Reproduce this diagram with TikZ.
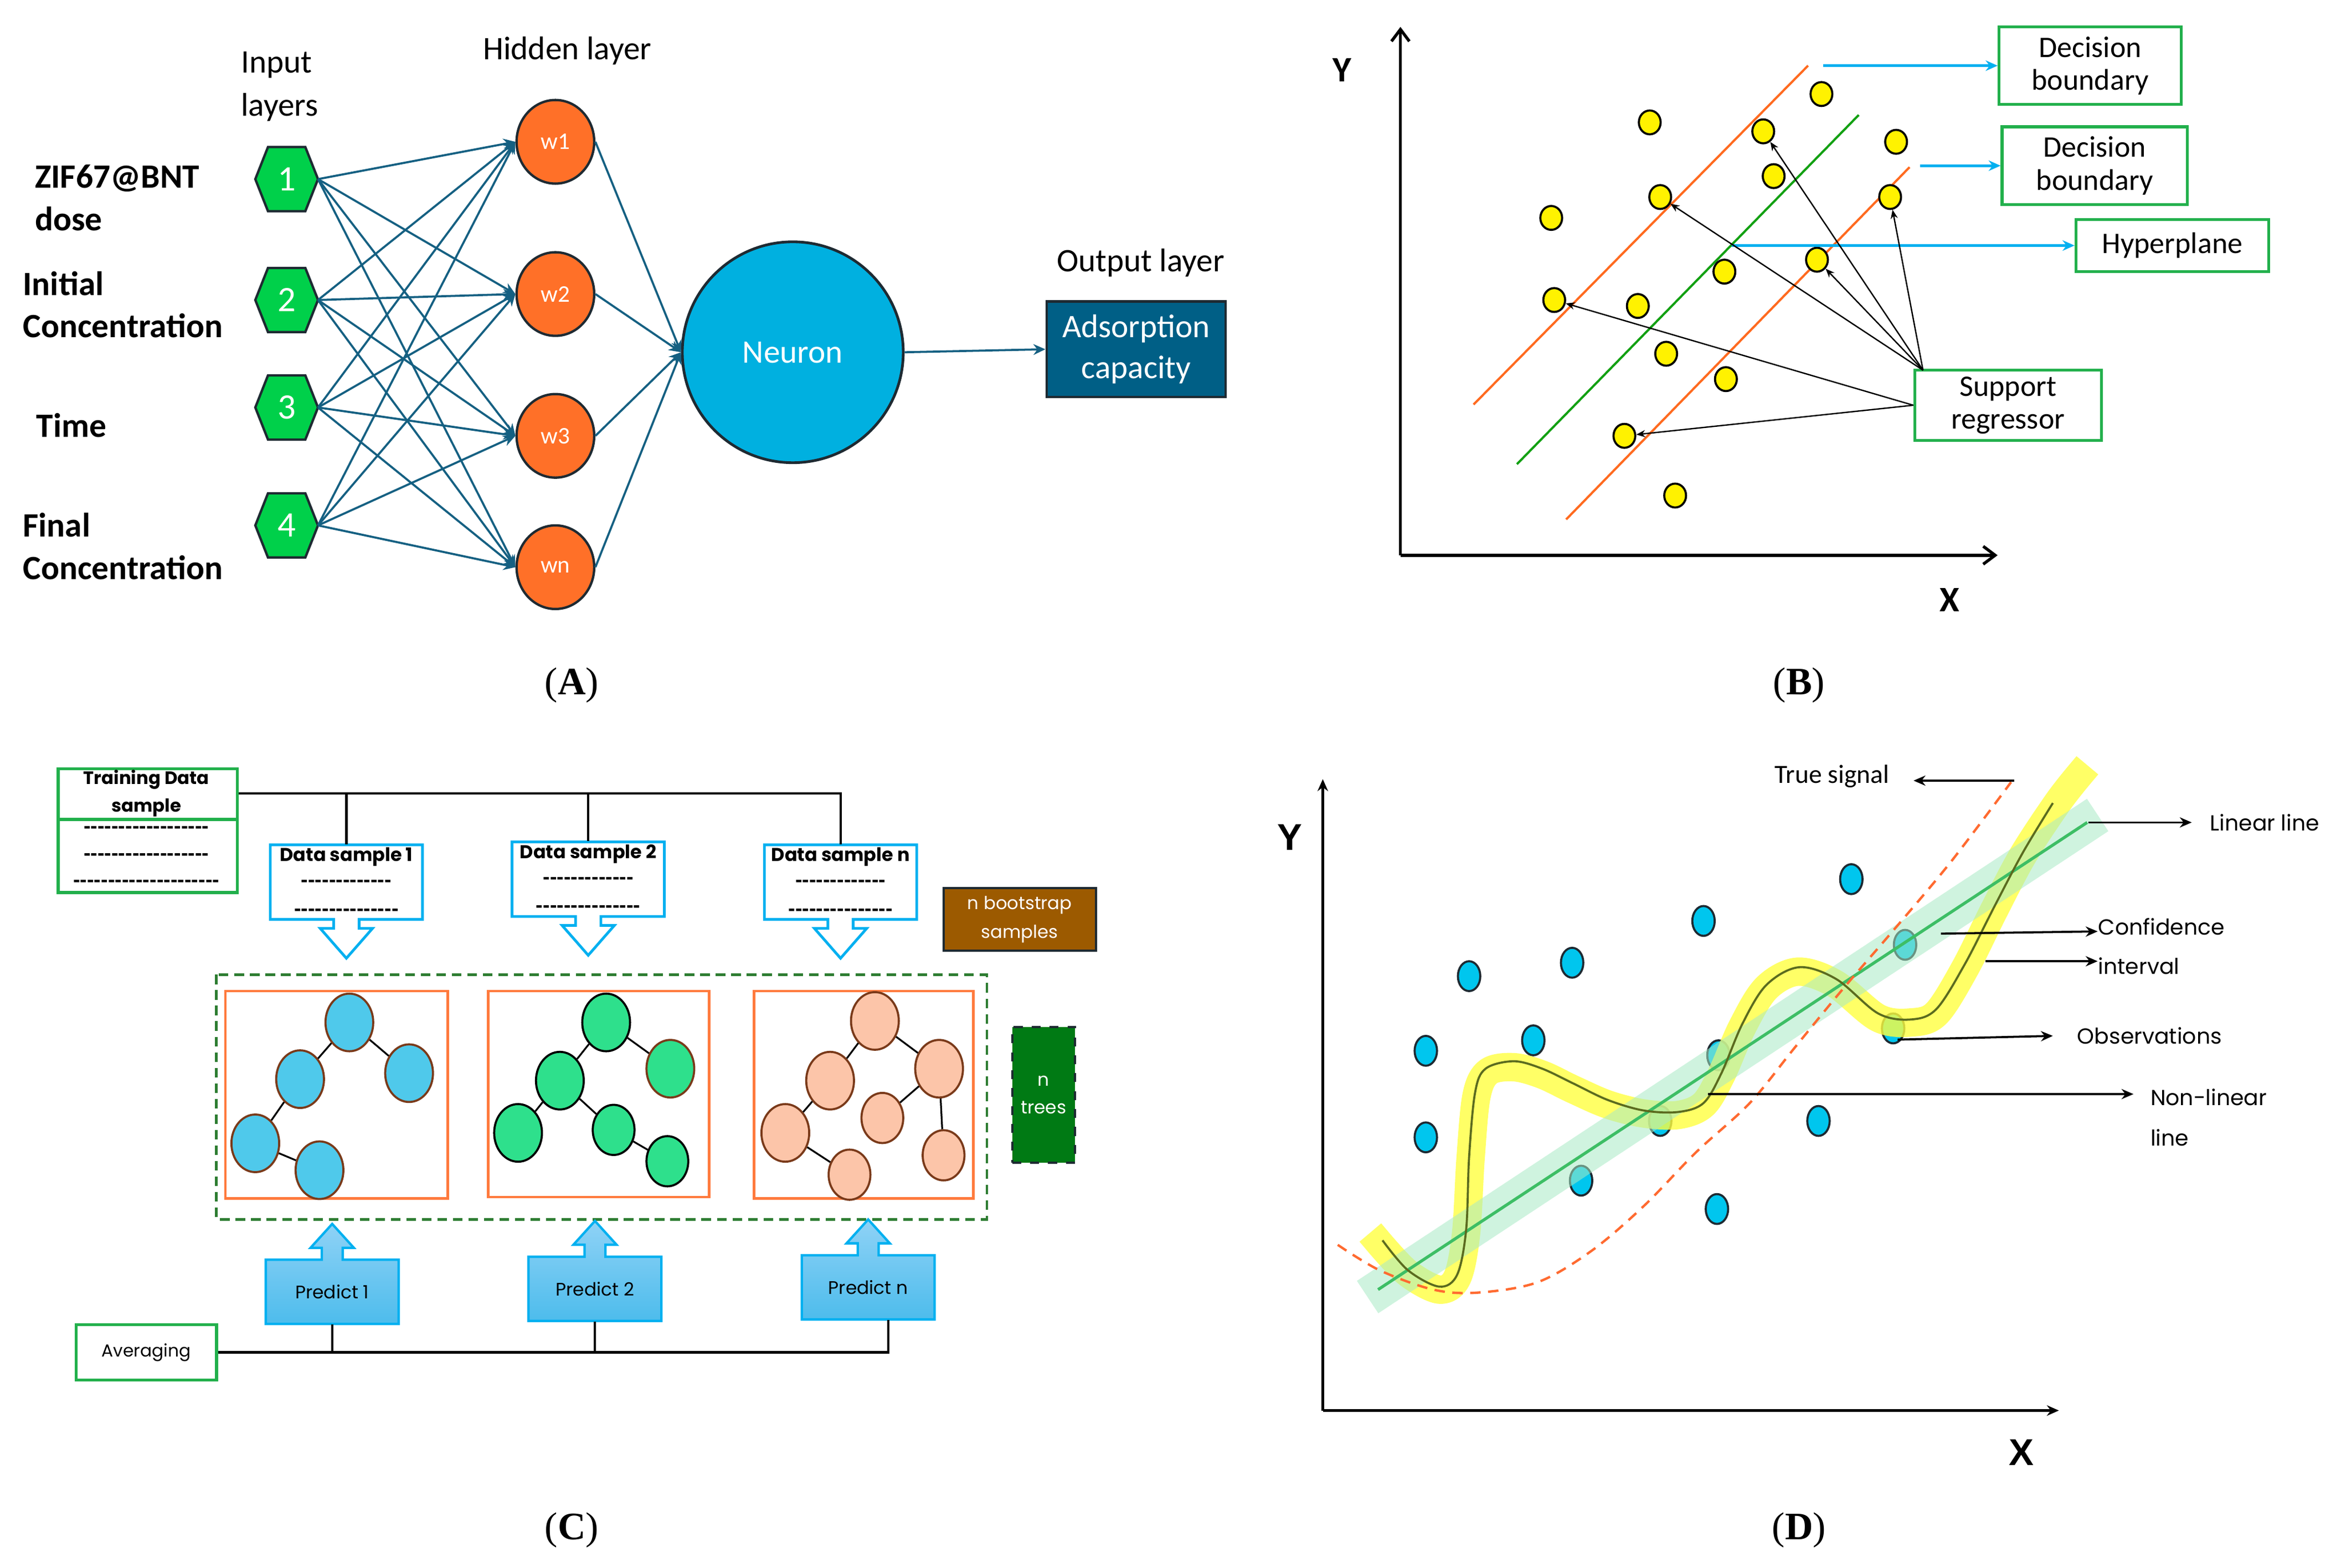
\documentclass[tikz,border=0pt]{standalone}
\usepackage{fontspec}
\setmainfont{Carlito}
\newfontfamily\popf{Poppins}
\newfontfamily\arlf{Liberation Sans}
\newfontfamily\tmsf{Liberation Serif}
\usetikzlibrary{arrows.meta,shapes.geometric}

\definecolor{aTeal}{HTML}{156082}
\definecolor{hexGreen}{HTML}{00D04A}
\definecolor{hidOrange}{HTML}{FF7028}
\definecolor{neuBlue}{HTML}{00B0E0}
\definecolor{adsBlue}{HTML}{005F86}
\definecolor{boxGreen}{HTML}{22B04C}
\definecolor{lnOrange}{HTML}{FF6A1F}
\definecolor{lnGreen}{HTML}{12A012}
\definecolor{cyanA}{HTML}{00B0F0}
\definecolor{treeBlue}{HTML}{4FC9EB}
\definecolor{treeGreen}{HTML}{2EE08C}
\definecolor{treePeach}{HTML}{FCC5A9}
\definecolor{treeEdge}{HTML}{7A3A1A}
\definecolor{treeBox}{HTML}{FF7A3D}
\definecolor{dashGreen}{HTML}{2E7D32}
\definecolor{nTrees}{HTML}{007A14}
\definecolor{bootBrown}{HTML}{9C5A00}
\definecolor{predTop}{HTML}{8FD2F6}
\definecolor{predBot}{HTML}{4DBCEC}
\definecolor{obsBlue}{HTML}{00C6EE}
\definecolor{bandGreen}{HTML}{A8EAC4}
\definecolor{hiYellow}{HTML}{FFFF40}
\definecolor{nlOlive}{HTML}{5B6B1F}
\definecolor{trueOrange}{HTML}{FF6A30}
\definecolor{linGreen}{HTML}{3DBE65}
\definecolor{darkEdge}{HTML}{1E2A32}

\newcommand\dashrow[1]{{\arlf\bfseries\fontsize{7}{8}\selectfont\foreach \k in {1,...,#1}{\hbox{-}}}}
% hexagon: name, x, y, label
\newcommand\hexat[4]{%
  \draw[hexsty] (#2-21,#3) -- (#2-12.5,#3-21.5) -- (#2+12.5,#3-21.5) -- (#2+21,#3)
     -- (#2+12.5,#3+21.5) -- (#2-12.5,#3+21.5) -- cycle;
  \node[hextext] (#1) at (#2,#3) {#4};
  \coordinate (hr#4) at (#2+21,#3);}
% down callout: L,T,R,B,cx,tipY
\newcommand\downcall[6]{%
  \draw[callsty] (#1,#2) -- (#3,#2) -- (#3,#4) -- (#5+8.5,#4) -- (#5+8.5,#4+6) -- (#5+17.5,#4+6)
    -- (#5,#6) -- (#5-17.5,#4+6) -- (#5-8.5,#4+6) -- (#5-8.5,#4) -- (#1,#4) -- cycle;}
% up callout: L,T,R,B,cx,tipY
\newcommand\upcall[6]{%
  \shadedraw[predsty] (#1,#2) -- (#5-7,#2) -- (#5-7,#2-8) -- (#5-14.5,#2-8) -- (#5,#6)
    -- (#5+14.5,#2-8) -- (#5+7,#2-8) -- (#5+7,#2) -- (#3,#2) -- (#3,#4) -- (#1,#4) -- cycle;}

\tikzset{
  hexsty/.style={draw=darkEdge, line width=0.8pt, fill=hexGreen},
  hextext/.style={inner sep=0pt, text=white, font=\fontsize{12}{14}\selectfont},
  hidnode/.style={ellipse, draw=darkEdge, line width=0.8pt, fill=hidOrange, minimum width=26pt,
     minimum height=28pt, inner sep=0pt, text=white, font=\fontsize{8}{9}\selectfont},
  conn/.style={aTeal, line width=0.7pt, -{Stealth[length=4pt,width=3.6pt]}},
  lbl/.style={inner sep=0pt, font=\fontsize{11}{14.5}\selectfont, align=left},
  blbl/.style={inner sep=0pt, font=\bfseries\fontsize{11.4}{14.2}\selectfont, align=left, anchor=west},
  capt/.style={inner sep=0pt, font=\tmsf\fontsize{13}{15}\selectfont},
  gbox/.style={draw=boxGreen, line width=1pt, fill=white, align=center, inner sep=0pt,
     font=\fontsize{10}{11}\selectfont},
  ydot/.style={ellipse, draw=black, line width=0.7pt, fill=yellow, minimum width=7.3pt,
     minimum height=8pt, inner sep=0pt},
  bluearr/.style={cyanA, line width=1pt, -{Stealth[length=4pt,width=3.5pt]}},
  thinarr/.style={black, line width=0.45pt, -{Stealth[length=3pt,width=2.4pt]}},
  baxis/.style={black, line width=1pt, -{Straight Barb[length=4pt,width=6pt]}},
  callsty/.style={draw=cyanA, line width=0.9pt, fill=white},
  predsty/.style={draw=cyanA, line width=0.8pt, top color=predTop, bottom color=predBot},
  cline/.style={black, line width=0.8pt},
  dstext/.style={inner sep=0pt, font=\popf\bfseries\fontsize{6.2}{8}\selectfont},
  ctext/.style={inner sep=0pt, font=\popf\fontsize{6.1}{8}\selectfont},
  tnode/.style={ellipse, draw=treeEdge, line width=0.7pt, inner sep=0pt, minimum width=16pt, minimum height=19.3pt},
  tsmall/.style={tnode, minimum width=14pt, minimum height=16.8pt},
  tedge/.style={black, line width=0.6pt},
  odot/.style={ellipse, fill=obsBlue, draw=darkEdge, line width=0.7pt, inner sep=0pt,
     minimum width=7.5pt, minimum height=10pt},
  daxis/.style={black, line width=1pt, -{Stealth[length=4pt,width=3.5pt]}},
  larr/.style={black, line width=0.7pt, -{Stealth[length=4pt,width=3.4pt]}},
  dtext/.style={inner sep=0pt, anchor=west, font=\popf\fontsize{7.3}{9}\selectfont},
}

\begin{document}
\begin{tikzpicture}[x=0.5pt,y=-0.5pt]
\useasboundingbox (0,0) rectangle (1568,1050.5);

% ================= Panel A =================
\node[lbl, anchor=west] (inl) at (161,58) {Input\\layers};
\node[lbl] (hidl) at (380,34) {Hidden layer};
\node[lbl] (outl) at (764,176) {Output layer};
\node[blbl] (lab1) at (23,132.5) {ZIF67@BNT\\dose};
\node[blbl] (lab2) at (15,204) {Initial\\Concentration};
\node[blbl] (lab3) at (24,285) {Time};
\node[blbl] (lab4) at (15,366) {Final\\Concentration};

\hexat{h1}{192}{120}{1}
\hexat{h2}{192}{201}{2}
\hexat{h3}{192}{273}{3}
\hexat{h4}{192}{352}{4}

\node[hidnode] (w1) at (372,95) {w1};
\node[hidnode] (w2) at (372,197) {w2};
\node[hidnode] (w3) at (372,292) {w3};
\node[hidnode] (wn) at (372,380) {wn};

\foreach \i in {1,...,4}{
  \foreach \j in {w1,w2,w3,wn}{
    \draw[conn] (hr\i) -- (\j.west);
  }
}

\node[circle, draw=darkEdge, line width=0.9pt, fill=neuBlue, minimum size=74pt, inner sep=0pt,
  text=white, font=\fontsize{11}{13}\selectfont] (neu) at (531,236) {Neuron};
\foreach \j in {w1,w2,w3,wn}{ \draw[conn] (\j.east) -- (neu.west); }

\node[draw=darkEdge, line width=0.8pt, fill=adsBlue, minimum width=60pt, minimum height=32pt,
  text=white, align=center, inner sep=0pt, font=\fontsize{11}{13.8}\selectfont] (ads) at (761,234) {Adsorption\\capacity};
\draw[conn] (neu.east) -- (ads.west);

\node[capt] (capA) at (383,459) {(\textbf{A})};

% ================= Panel B =================
\draw[baxis] (938,372) -- (938,18);
\draw[baxis] (938,372) -- (1338,372);
\node[inner sep=0pt, font=\bfseries\fontsize{12}{14}\selectfont] (by) at (899,47) {Y};
\node[inner sep=0pt, font=\bfseries\fontsize{12}{14}\selectfont] (bx) at (1306,402) {X};

\draw[lnOrange, line width=0.75pt] (987,271) -- (1211,44);
\draw[lnGreen, line width=0.75pt] (1016,311) -- (1245,77);
\draw[lnOrange, line width=0.75pt] (1049,348) -- (1279,112);

\foreach \n/\x/\y in {1/1220/63, 2/1105/82, 3/1181/88, 4/1270/95, 5/1188/118, 6/1112/132,
   7/1266/132, 8/1039/146, 9/1217/174, 10/1155/182, 11/1041/201, 12/1097/205, 13/1116/237,
   14/1156/254, 15/1088/292, 16/1122/332}{
  \node[ydot] (p\n) at (\x,\y) {};
}

\node[gbox, minimum width=61pt, minimum height=26pt] (db1) at (1400,44) {Decision\\boundary};
\node[gbox, minimum width=62pt, minimum height=26pt] (db2) at (1403,111) {Decision\\boundary};
\node[gbox, minimum width=64.5pt, minimum height=17.5pt] (hp) at (1455,164.5) {Hyperplane};
\node[gbox, minimum width=62.5pt, minimum height=23.5pt] (sr) at (1345,271.5) {Support\\regressor};

\draw[bluearr] (1221,44) -- (db1.west);
\draw[bluearr] (1286,111) -- (db2.west);
\draw[bluearr] (1160,164.5) -- (hp.west);

\coordinate (srt) at (1288,248);
\foreach \p in {p3,p6,p9,p7}{ \draw[thinarr] (srt) -- (\p); }
\draw[thinarr] (sr.west) -- (p11);
\draw[thinarr] (sr.west) -- (p15);

\node[capt] (capB) at (1205,459) {(\textbf{B})};

% ================= Panel C =================
\node[draw=boxGreen, line width=1pt, minimum width=60pt, minimum height=41.5pt, inner sep=0pt,
  anchor=north west] (train) at (38,514) {};
\draw[boxGreen, line width=1pt] (38,549) -- (158,549);
\node[dstext, align=center, font=\popf\bfseries\fontsize{6}{9.2}\selectfont] (trainhead) at (98,531.5) {Training Data\\sample};
\node[dstext] (tr1) at (98,556) {\dashrow{18}};
\node[dstext] (tr2) at (98,574) {\dashrow{18}};
\node[dstext] (tr3) at (98,592) {\dashrow{21}};

\downcall{181}{566}{283}{616}{232}{642}
\downcall{343}{564}{445}{614}{394}{640}
\downcall{512}{566}{614}{616}{563}{642}
\node[inner sep=0pt, minimum width=51pt, minimum height=25pt] (ds1) at (232,591) {};
\node[inner sep=0pt, minimum width=51pt, minimum height=25pt] (ds2) at (394,589) {};
\node[inner sep=0pt, minimum width=51pt, minimum height=25pt] (ds3) at (563,591) {};
\node[dstext] (ds1t) at (232,574) {Data sample 1};
\node[dstext] (ds1a) at (232,592) {\dashrow{13}};
\node[dstext] (ds1b) at (232,611) {\dashrow{15}};
\node[dstext] (ds2t) at (394,572) {Data sample 2};
\node[dstext] (ds2a) at (394,590) {\dashrow{13}};
\node[dstext] (ds2b) at (394,609) {\dashrow{15}};
\node[dstext] (ds3t) at (563,574) {Data sample n};
\node[dstext] (ds3a) at (563,592) {\dashrow{13}};
\node[dstext] (ds3b) at (563,611) {\dashrow{15}};

\draw[cline] (trainhead -| train.east) -- (trainhead -| ds3.north) -- (ds3.north);
\draw[cline] (trainhead -| ds1.north) -- (ds1.north);
\draw[cline] (trainhead -| ds2.north) -- (ds2.north);

\node[draw=darkEdge, line width=0.8pt, fill=bootBrown, text=white, minimum width=51pt, minimum height=21pt,
  inner sep=0pt, align=center, font=\popf\fontsize{6}{9.6}\selectfont] (boot) at (683,616) {n bootstrap\\samples};

\draw[dashGreen, line width=0.9pt, dash pattern=on 3.2pt off 2pt] (145,653) rectangle (661,817);
\draw[treeBox, line width=0.9pt] (151,664) rectangle (300,803);
\draw[treeBox, line width=0.9pt] (327,664) rectangle (475,802);
\draw[treeBox, line width=0.9pt] (505,664) rectangle (652,803);

% tree 1
\node[tnode, fill=treeBlue] (t1a) at (234,685) {};
\node[tnode, fill=treeBlue] (t1b) at (201,723) {};
\node[tnode, fill=treeBlue] (t1c) at (274,719) {};
\node[tnode, fill=treeBlue] (t1d) at (171,766) {};
\node[tnode, fill=treeBlue] (t1e) at (214,784) {};
\draw[tedge] (t1a) -- (t1b);
\draw[tedge] (t1a) -- (t1c);
\draw[tedge] (t1b) -- (t1d);
\draw[tedge] (t1d) -- (t1e);
% tree 2
\node[tnode, fill=treeGreen, draw=black] (t2a) at (406,685) {};
\node[tnode, fill=treeGreen] (t2b) at (449,716) {};
\node[tnode, fill=treeGreen, draw=black] (t2c) at (375,724) {};
\node[tnode, fill=treeGreen, draw=black] (t2d) at (347,759) {};
\node[tsmall, fill=treeGreen, draw=black] (t2e) at (411,757) {};
\node[tsmall, fill=treeGreen, draw=black] (t2f) at (447,778) {};
\draw[tedge] (t2a) -- (t2b);
\draw[tedge] (t2a) -- (t2c);
\draw[tedge] (t2c) -- (t2d);
\draw[tedge] (t2c) -- (t2e);
\draw[tedge] (t2e) -- (t2f);
% tree 3
\node[tnode, fill=treePeach] (t3a) at (586,684) {};
\node[tnode, fill=treePeach] (t3b) at (556,724) {};
\node[tnode, fill=treePeach] (t3c) at (629,716) {};
\node[tnode, fill=treePeach] (t3d) at (526,759) {};
\node[tsmall, fill=treePeach] (t3e) at (591,749) {};
\node[tsmall, fill=treePeach] (t3f) at (569,787) {};
\node[tsmall, fill=treePeach] (t3g) at (632,774) {};
\draw[tedge] (t3a) -- (t3b);
\draw[tedge] (t3a) -- (t3c);
\draw[tedge] (t3b) -- (t3d);
\draw[tedge] (t3d) -- (t3f);
\draw[tedge] (t3e) -- (t3c);
\draw[tedge] (t3c) -- (t3g);

\node[draw=darkEdge, dashed, line width=0.8pt, fill=nTrees, text=white, minimum width=21pt, minimum height=45.5pt,
  inner sep=0pt, align=center, font=\popf\fontsize{6.1}{9.2}\selectfont] (ntr) at (699,733.5) {n\\trees};

\upcall{178}{844}{267}{887}{222.5}{820}
\upcall{354}{842}{443}{885}{398.5}{818}
\upcall{537}{841}{626}{884}{581.5}{817}
\node[ctext, minimum width=44.5pt, minimum height=21.5pt] (pr1) at (222.5,865.5) {Predict 1};
\node[ctext, minimum width=44.5pt, minimum height=21.5pt] (pr2) at (398.5,863.5) {Predict 2};
\node[ctext, minimum width=44.5pt, minimum height=21.5pt] (prn) at (581.5,862.5) {Predict n};

\node[draw=boxGreen, line width=1pt, minimum width=47pt, minimum height=18.5pt, inner sep=0pt,
  font=\popf\fontsize{5.8}{7}\selectfont] (avg) at (98,906) {Averaging};
\coordinate (pnd) at ([xshift=6.75pt]prn.south);
\draw[cline] (avg.east) -- (avg.east -| pnd) -- (pnd);
\draw[cline] (pr1.south) -- (pr1.south |- avg.east);
\draw[cline] (pr2.south) -- (pr2.south |- avg.east);

\node[capt] (capC) at (383,1025) {(\textbf{C})};

% ================= Panel D =================
\draw[daxis] (886,945) -- (886,522);
\draw[daxis] (886,945) -- (1379,945);
\node[inner sep=0pt, font=\arlf\bfseries\fontsize{12.5}{14}\selectfont] (dy) at (864,561) {Y};
\node[inner sep=0pt, font=\arlf\bfseries\fontsize{12.5}{14}\selectfont] (dx) at (1354,973) {X};

\foreach \n/\x/\y in {1/1141/617, 2/984/654, 3/1053/645, 4/955/704, 5/1027/697, 6/955/762,
   7/1059/791, 8/1112/751, 9/1151/707, 10/1150/810, 11/1218/751, 12/1240/589, 13/1276/633, 14/1268/689}{
  \node[odot] (o\n) at (\x,\y) {};
}

\draw[hiYellow, opacity=0.8, line width=9.5pt, line cap=rect, line join=round]
  plot[smooth, tension=0.55] coordinates {(924,833) (943,853) (964,864) (976,856) (982,826) (985,776)
   (989,734) (997,718) (1014,715) (1033,720) (1054,730) (1077,740) (1101,746) (1124,747) (1141,740)
   (1153,720) (1167,688) (1183,662) (1204,651) (1229,659) (1258,682) (1280,685) (1297,679) (1316,649)
   (1336,609) (1355,573) (1378,538) (1392,520)};
\draw[bandGreen, opacity=0.55, line width=13pt] (916,869) -- (1405,546);
\draw[linGreen, line width=1pt] (923,864) -- (1398,551);
\draw[nlOlive, line width=0.7pt] plot[smooth, tension=0.55] coordinates {(926,831) (943,851) (964,862)
   (976,854) (982,824) (984,775) (988,732) (995,716) (1014,711) (1033,716) (1054,726) (1077,737)
   (1101,744) (1124,745) (1141,739) (1153,719) (1167,686) (1183,660) (1205,648) (1230,656) (1258,679)
   (1280,683) (1297,676) (1316,646) (1336,607) (1355,571) (1375,538)};
\draw[trueOrange, line width=0.8pt, dash pattern=on 3.5pt off 2.5pt] plot[smooth, tension=0.55]
  coordinates {(896,834) (924,851) (960,864) (990,866) (1030,859) (1066,838) (1101,808) (1136,772)
   (1172,739) (1202,702) (1234,663) (1271,620) (1307,577) (1347,524)};

\node[inner sep=0pt, font=\fontsize{8.8}{10}\selectfont] (ts) at (1227,520) {True signal};
\node[dtext] (ll) at (1480,551) {Linear line};
\node[dtext] (conf) at (1405,621) {Confidence};
\node[dtext] (intv) at (1405,647) {interval};
\node[dtext] (obs) at (1391,694) {Observations};
\node[dtext] (nonl) at (1440,735) {Non-linear};
\node[dtext] (nline) at (1440,762) {line};

\coordinate (tsS) at (1349,523);
\coordinate (llS) at (1399,551);
\coordinate (ciS) at (1300,625.5);
\coordinate (ivS) at (1330,644);
\coordinate (obS) at (1271,696.5);
\coordinate (nlS) at (1144,733);
\draw[larr] (tsS) -- ([xshift=8pt,yshift=-1.5pt]ts.east);
\draw[larr] (llS) -- ([xshift=-6pt]ll.west);
\draw[larr] (ciS) -- ([yshift=-1.5pt]conf.west);
\draw[larr] (ivS) -- ([yshift=1.5pt]intv.west);
\draw[larr] (obS) -- ([xshift=-8pt]obs.west);
\draw[larr] (nlS) -- ([xshift=-5.5pt,yshift=1pt]nonl.west);

\node[capt] (capD) at (1205,1025) {(\textbf{D})};
\end{tikzpicture}
\end{document}
